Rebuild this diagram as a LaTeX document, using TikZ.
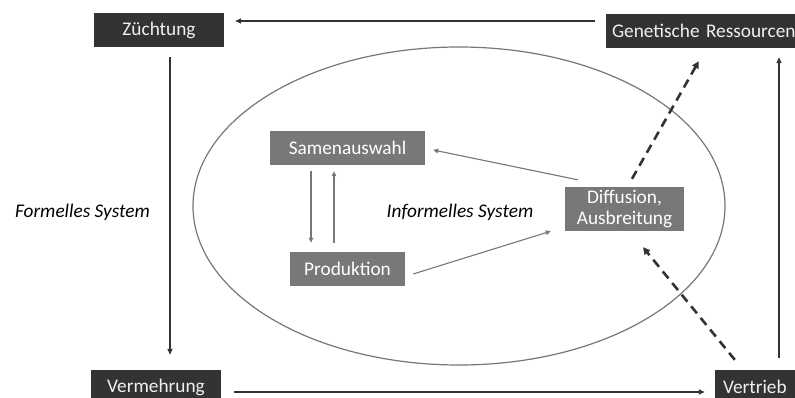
\documentclass[tikz,border=0pt]{standalone}
\usepackage{fontspec}
\setmainfont{Carlito}
\usetikzlibrary{calc,arrows.meta}
\definecolor{darkbox}{HTML}{333333}
\definecolor{graybox}{HTML}{787878}
\definecolor{grayline}{HTML}{777777}
\begin{document}
\begin{tikzpicture}[x=1pt,y=-1pt,
  base/.style={inner sep=0pt,minimum height=34pt,font=\fontsize{19.3}{21}\selectfont,align=center},
  darknode/.style={base,fill=darkbox,text=white!94!black},
  graynode/.style={base,fill=graybox,text=white},
  arr/.style={draw=darkbox,line width=1.4pt,-{Triangle[length=6pt,width=5pt]}},
  garr/.style={draw=grayline,line width=1.1pt,-{Triangle[length=5pt,width=4.5pt]}},
  darr/.style={draw=darkbox,line width=2.6pt,dash pattern=on 9pt off 6pt,-{Triangle[length=7pt,width=7pt]}},
  lbl/.style={font=\fontsize{19.3}{21}\selectfont\itshape,text=black}]
\path[use as bounding box] (0,0) rectangle (795,398);
\clip (0,0) rectangle (795,398);
\fill[white] (0,0) rectangle (795,398);
% ellipse
\draw[grayline,line width=1.2pt] (459,206) ellipse [x radius=266, y radius=159];
% nodes
\node[darknode,minimum width=130pt] (zu) at (159,30) {Züchtung};
\node[darknode,minimum width=197pt,text width=185pt,align=left] (gen) at (704.5,31) {Genetische Ressourcen};
\node[darknode,minimum width=130pt] (ver) at (156,387) {Vermehrung};
\node[darknode,minimum width=85pt,text width=69pt,align=left] (vt) at (757.5,387) {Vertrieb};
\node[graynode,minimum width=155pt] (sam) at (347.5,148) {Samenauswahl};
\node[graynode,minimum width=115pt] (pro) at (347.5,269) {Produktion};
\node[graynode,minimum width=119pt,minimum height=44pt,font=\fontsize{19.3}{20.5}\selectfont] (dif) at (624.5,209) {Diffusion,\\Ausbreitung};
\node[lbl] (form) at (82.5,212) {Formelles System};
\node[lbl] (inf) at (460,212) {Informelles System};
% formal connectors
\draw[arr] ($(gen.west)+(-11,-10)$) -- ($(zu.east)+(11,-9)$);
\draw[arr] ($(zu.south)+(11,10)$) -- ($(ver.north)+(14,-15)$);
\draw[arr] ($(ver.east)+(13,5)$) -- ($(vt.west)+(-10,5)$);
\draw[arr] ($(vt.north)+(21.5,-12)$) -- ($(gen.south)+(74.5,9)$);
% informal connectors
\draw[garr] ($(sam.south)+(-36.5,6)$) -- ($(pro.north)+(-36.5,-9)$);
\draw[garr] ($(pro.north)+(-13.5,-9)$) -- ($(sam.south)+(-13.5,6)$);
\draw[garr] ($(dif.north west)+(13,-7)$) -- ($(sam.east)+(8,2)$);
\draw[garr] ($(pro.east)+(8,5)$) -- ($(dif.south west)+(-14,0)$);
% dashed connectors
\draw[darr] ($(dif.north)+(7.5,-8)$) -- ($(gen.south west)+(93,13)$);
\draw[darr] ($(vt.north west)+(20,-10)$) -- ($(dif.south)+(18.5,16)$);
\end{tikzpicture}
\end{document}
